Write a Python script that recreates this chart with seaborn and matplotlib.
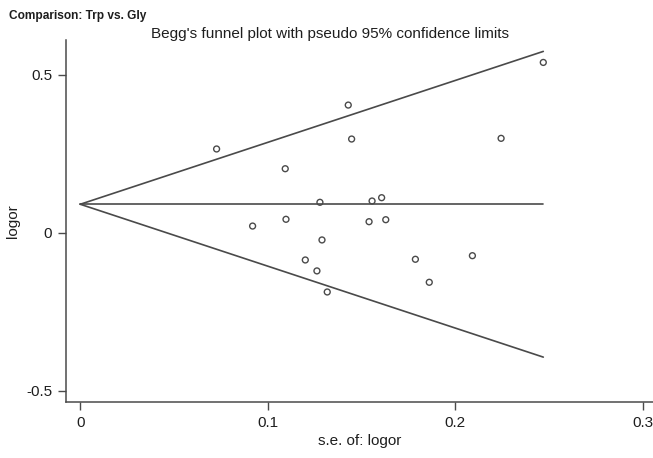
import numpy as np
import pandas as pd
import matplotlib
matplotlib.use("Agg")
import matplotlib.pyplot as plt
import seaborn as sns

# study-level data
se = [0.0727, 0.0919, 0.1093, 0.1097, 0.1200, 0.1262, 0.1278, 0.1289, 0.1317, 0.1429,
      0.1447, 0.1540, 0.1556, 0.1607, 0.1629, 0.1787, 0.1861, 0.2091, 0.2244, 0.2469]
logor = [0.265, 0.021, 0.2025, 0.0424, -0.0864, -0.121, 0.0962, -0.023, -0.1877, 0.404,
         0.2965, 0.0348, 0.1003, 0.1108, 0.0411, -0.0842, -0.157, -0.0728, 0.2987, 0.539]
pooled = 0.09
x_ticks = [0, 0.1, 0.2, 0.3]
y_ticks = [-0.5, 0, 0.5]

df = pd.DataFrame({"se": se, "logor": logor})

sns.set_style("ticks")
plt.rcParams["font.family"] = ["Liberation Sans", "DejaVu Sans"]
grey = "#4a4a4a"
txt = "#1e1e1e"

fig = plt.figure(figsize=(6.53, 4.58), dpi=100)
ax = fig.add_axes([66 / 653, 1 - 402 / 458, 1 - 66 / 653, (402 - 40) / 458])

# pseudo 95% confidence limits
s = np.array([0, max(se)])
ax.plot(s, pooled + 1.96 * s, color=grey, lw=1.2)
ax.plot(s, pooled - 1.96 * s, color=grey, lw=1.2)
ax.plot(s, [pooled, pooled], color=grey, lw=1.2)

sns.scatterplot(data=df, x="se", y="logor", ax=ax, marker="o", s=18,
                facecolor="none", edgecolor=grey, linewidth=1.0, zorder=3)

ax.set_xlim(-0.0076, 0.3054)
ax.set_ylim(-0.536, 0.61)
ax.set_xticks(x_ticks)
ax.set_xticklabels(["0", "0.1", "0.2", "0.3"])
ax.set_yticks(y_ticks)
ax.set_yticklabels(["-0.5", "0", "0.5"])
ax.tick_params(axis="both", direction="out", length=6, width=1, color=grey,
               labelsize=11, labelcolor=txt)
ax.tick_params(axis="x", pad=4)
ax.tick_params(axis="y", pad=4)
for side in ["top", "right"]:
    ax.spines[side].set_visible(False)
for side in ["left", "bottom"]:
    ax.spines[side].set_color(grey)
    ax.spines[side].set_linewidth(1.1)

ax.set_xlabel("s.e. of: logor", fontsize=11, color=txt, labelpad=3)
ax.set_ylabel("logor", fontsize=11, color=txt, labelpad=4)

fig.text(330 / 653, 1 - 34 / 458, "Begg's funnel plot with pseudo 95% confidence limits",
         ha="center", va="center", fontsize=11, color=txt)
fig.text(9 / 653, 1 - 16 / 458, "Comparison: Trp vs. Gly",
         ha="left", va="center", fontsize=8.6, fontweight="bold", color=txt)

fig.savefig("out.png", dpi=100)
